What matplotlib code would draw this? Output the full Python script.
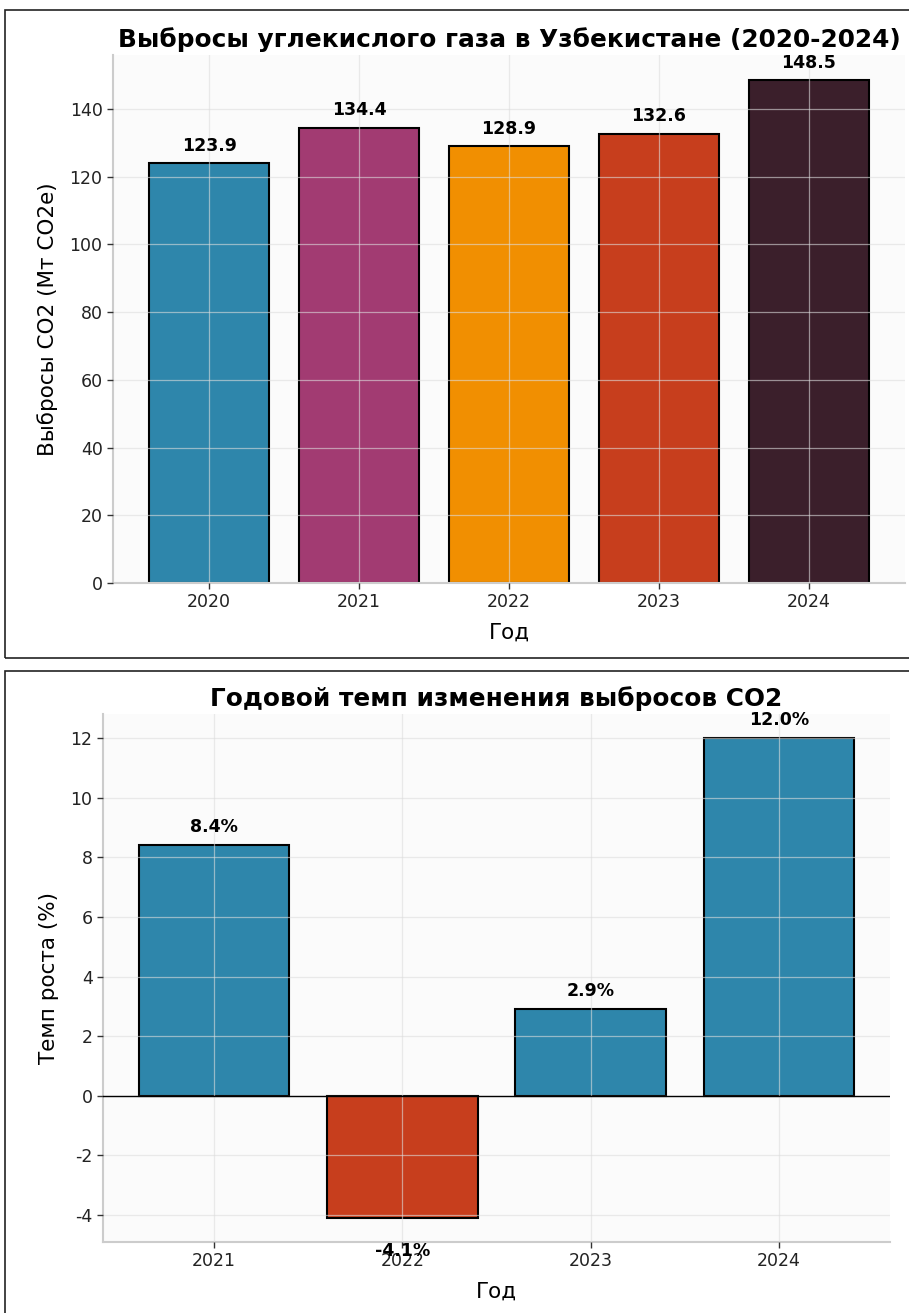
import numpy as np
import matplotlib
matplotlib.use("Agg")
import matplotlib.pyplot as plt
from matplotlib.patches import Rectangle

years = ["2020", "2021", "2022", "2023", "2024"]
emissions = [123.9, 134.4, 128.9, 132.6, 148.5]
colors = ["#2E86AB", "#A23B72", "#F18F01", "#C73E1D", "#3B1F2B"]

growth_years = ["2021", "2022", "2023", "2024"]
growth = [8.4, -4.1, 2.9, 12.0]

plt.rcParams['font.family'] = ['DejaVu Sans']
plt.rcParams['axes.unicode_minus'] = False

W, H = 909, 1313
fig = plt.figure(figsize=(W / 100, H / 100), dpi=100)


def px_axes(left, top, right, bottom):
    return fig.add_axes([left / W, 1 - bottom / H, (right - left) / W, (bottom - top) / H])


def style(ax):
    ax.set_facecolor("#fbfbfb")
    for s in ["top", "right"]:
        ax.spines[s].set_visible(False)
    for s in ["left", "bottom"]:
        ax.spines[s].set_color("#cccccc")
        ax.spines[s].set_linewidth(1.5)
    ax.tick_params(axis="both", labelsize=12.5, length=4, color="#333333", width=1,
                   labelcolor="#222222")
    ax.set_axisbelow(False)
    ax.grid(True, color="#dddddd", alpha=0.6, linewidth=0.9)


# panel borders
fig.patches.append(Rectangle((5 / W, 1 - 658 / H), 1.2, 648 / H, transform=fig.transFigure,
                             fill=False, edgecolor="#222222", linewidth=1.2))
fig.patches.append(Rectangle((5 / W, -0.2), 1.2, 0.2 + (H - 671) / H, transform=fig.transFigure,
                             fill=False, edgecolor="#222222", linewidth=1.2))

# top chart
ax1 = px_axes(113, 55, 905, 583)
style(ax1)
x1 = np.arange(len(years))
bars = ax1.bar(x1, emissions, width=0.8, color=colors, edgecolor="black", linewidth=1.5)
for b, v in zip(bars, emissions):
    ax1.text(b.get_x() + b.get_width() / 2, v + 2.5, f"{v:.1f}", ha="center", va="bottom",
             fontsize=12.5, fontweight="bold")
ax1.set_xticks(x1)
ax1.set_xticklabels(years)
ax1.set_ylim(0, 155.9)
ax1.set_title("Выбросы углекислого газа в Узбекистане (2020-2024)", fontsize=17.8,
              fontweight="bold", pad=6)
ax1.set_ylabel("Выбросы CO2 (Мт CO2e)", fontsize=15.5, labelpad=8)
ax1.set_xlabel("Год", fontsize=15.5, labelpad=8)

# bottom chart
ax2 = px_axes(103, 714, 890, 1242)
style(ax2)
x2 = np.arange(len(growth_years))
gcolors = ["#2E86AB" if g >= 0 else "#C73E1D" for g in growth]
bars2 = ax2.bar(x2, growth, width=0.8, color=gcolors, edgecolor="black", linewidth=1.5)
ax2.axhline(0, color="black", linewidth=1, zorder=5)
for b, v in zip(bars2, growth):
    if v >= 0:
        ax2.text(b.get_x() + b.get_width() / 2, v + 0.3, f"{v:.1f}%", ha="center", va="bottom",
                 fontsize=12.5, fontweight="bold")
    else:
        ax2.text(b.get_x() + b.get_width() / 2, v - 0.8, f"{v:.1f}%", ha="center", va="top",
                 fontsize=12.5, fontweight="bold")
ax2.set_xticks(x2)
ax2.set_xticklabels(growth_years)
ax2.set_title("Годовой темп изменения выбросов CO2", fontsize=17.8, fontweight="bold", pad=6)
ax2.set_ylabel("Темп роста (%)", fontsize=15.5, labelpad=8)
ax2.set_xlabel("Год", fontsize=15.5, labelpad=8)

fig.savefig("out.png", dpi=100)
